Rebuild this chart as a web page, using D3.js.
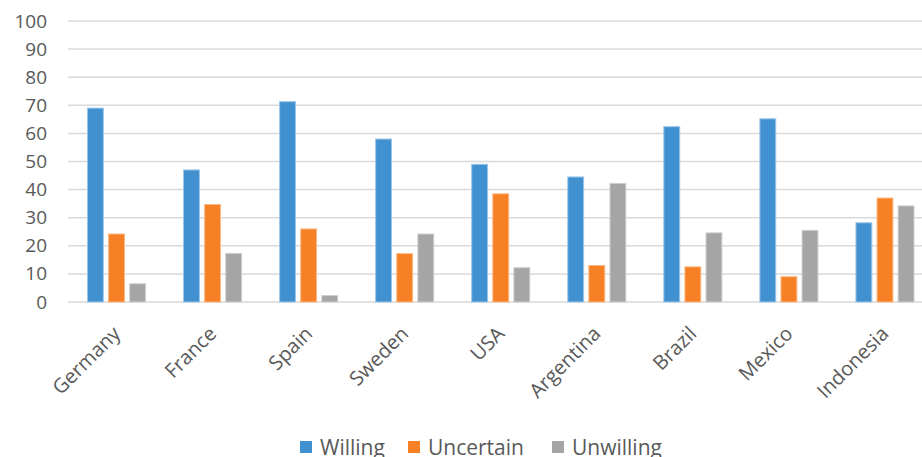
<!DOCTYPE html>
<html><head><meta charset="utf-8">
<script src="https://cdn.jsdelivr.net/npm/d3@7"></script>
<style>body{margin:0;background:#fff;overflow:hidden}svg{display:block}</style>
</head><body><svg id="c" width="922" height="457"></svg>
<script>
const categories = ["Germany","France","Spain","Sweden","USA","Argentina","Brazil","Mexico","Indonesia"];
const seriesNames = ["Willing","Uncertain","Unwilling"];
const willing   = [69, 47, 71.3, 58, 49, 44.5, 62.4, 65.2, 28.2];
const uncertain = [24.2, 34.7, 26, 17.2, 38.5, 13, 12.5, 9, 37];
const unwilling = [6.5, 17.3, 2.3, 24.2, 12.2, 42.2, 24.6, 25.5, 34.2];
const yTicks = [0,10,20,30,40,50,60,70,80,90,100];
const colors = ["#4191d0","#f58025","#a5a5a5"];
const strokes = ["#9cc6ea","#fbb882","#cfcfcf"];

const values = [willing, uncertain, unwilling];
const svg = d3.select("#c");
const font = "'Open Sans','Noto Sans',sans-serif";

const x0 = d3.scaleBand().domain(categories).range([68.5, 933]).paddingInner(0.385).paddingOuter(0.1925);
const x1 = d3.scaleBand().domain(seriesNames).range([0, x0.bandwidth()]).paddingInner(0.2);
const y = d3.scaleLinear().domain([0,100]).range([302, 21]);

// gridlines
svg.append("g").selectAll("line").data(yTicks).join("line")
  .attr("x1", 68).attr("x2", 922)
  .attr("y1", d => y(d)).attr("y2", d => y(d))
  .attr("stroke", "#d9d9d9").attr("stroke-width", 1.5);

// y axis labels
const yAxis = d3.axisLeft(y).tickValues(yTicks).tickSize(0).tickPadding(0);
const ya = svg.append("g").attr("transform","translate(47,0)").call(yAxis);
ya.select(".domain").remove();
ya.selectAll("text").attr("font-family", font).attr("font-size", 19).attr("fill", "#595959");

// bars
const groups = svg.append("g").selectAll("g").data(categories).join("g")
  .attr("transform", d => `translate(${x0(d)},0)`);
groups.selectAll("rect").data((c, i) => seriesNames.map((s, k) => ({s, k, v: values[k][i]})))
  .join("rect")
  .attr("x", d => x1(d.s) + 0.5)
  .attr("width", x1.bandwidth() - 1)
  .attr("y", d => y(d.v))
  .attr("height", d => y(0) - y(d.v))
  .attr("fill", d => colors[d.k])
  .attr("stroke", d => strokes[d.k]).attr("stroke-width", 1);

// x axis labels
const xa = svg.append("g").attr("transform", "translate(0,302)")
  .call(d3.axisBottom(x0).tickSize(0).tickPadding(0));
xa.select(".domain").remove();
xa.selectAll("text")
  .attr("font-family", font).attr("font-size", 20).attr("fill", "#595959")
  .attr("text-anchor", "end").attr("dy", 0).attr("y", 0)
  .attr("transform", "translate(5,33) rotate(-45)");

// legend
const legX = [300, 408, 552];
const leg = svg.append("g").selectAll("g").data(seriesNames).join("g")
  .attr("transform", (d,i) => `translate(${legX[i]},441)`);
leg.append("rect").attr("width", 12).attr("height", 12).attr("fill", (d,i) => colors[i]);
leg.append("text").attr("x", 20).attr("y", 13.5).text(d => d)
  .attr("font-family", font).attr("font-size", 21).attr("fill", "#595959");
</script></body></html>
